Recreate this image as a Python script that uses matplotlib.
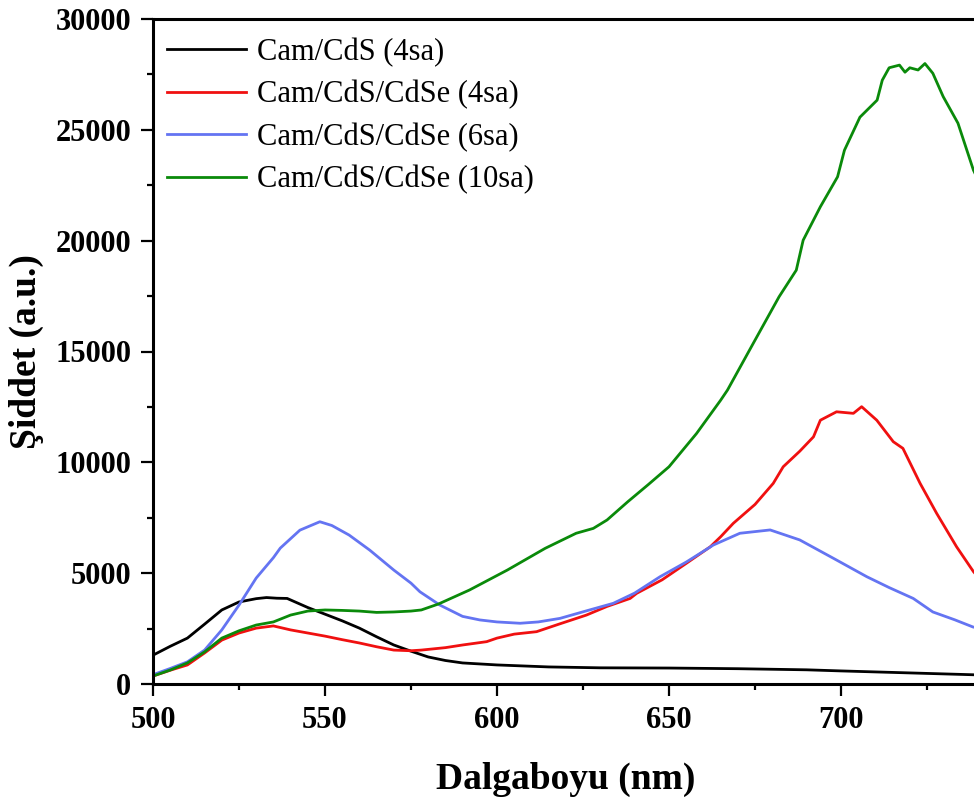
import matplotlib
matplotlib.use("Agg")
import matplotlib.pyplot as plt
from matplotlib.ticker import MultipleLocator

plt.rcParams["font.family"] = ["Liberation Serif", "DejaVu Serif"]

# %%
# Emission spectra (wavelength in nm, intensity in a.u.)
wl_cds4 = [500, 505, 510, 515, 520, 525, 530, 533, 536, 539, 545, 550, 555, 560,
           565, 570, 575, 580, 585, 590, 600, 615, 630, 650, 670, 690, 700, 720, 740]
int_cds4 = [1300, 1700, 2070, 2700, 3340, 3700, 3850, 3900, 3870, 3860, 3450, 3150,
            2850, 2520, 2130, 1760, 1480, 1220, 1060, 950, 860, 770, 730, 720, 690,
            640, 590, 500, 410]

wl_cdse4 = [500, 505, 510, 515, 520, 525, 530, 535, 540, 545, 550, 555, 560, 565,
            570, 575, 578, 585, 590, 597, 600, 605, 611.5, 618, 626, 632, 638.7,
            640.6, 648, 655, 662, 665, 668.7, 675, 680.3, 683.2, 688, 692, 694,
            698.7, 703.6, 706, 710.4, 715.2, 718, 723, 727.8, 733.6, 738.5, 740]
int_cdse4 = [360, 620, 860, 1400, 1980, 2300, 2520, 2620, 2440, 2300, 2160, 2000,
             1850, 1680, 1530, 1500, 1530, 1640, 1760, 1910, 2070, 2250, 2360, 2700,
             3110, 3500, 3860, 4090, 4700, 5440, 6190, 6640, 7250, 8100, 9050, 9800,
             10500, 11150, 11900, 12280, 12210, 12510, 11900, 10930, 10630, 9050,
             7700, 6190, 5070, 4800]

wl_cdse6 = [500, 505, 510, 515, 520, 525, 530, 535, 537, 542.7, 548.5, 552, 557,
            563, 570, 575, 577.6, 583.4, 590, 595, 600, 606.7, 612, 618.3, 626,
            633.8, 640, 647.4, 655, 662.9, 670.6, 679.4, 688, 697.8, 707.5, 714,
            721, 726.7, 733, 738.4, 740]
int_cdse6 = [420, 700, 1000, 1530, 2440, 3560, 4780, 5700, 6130, 6940, 7320, 7150,
             6720, 6040, 5140, 4550, 4160, 3560, 3050, 2890, 2800, 2740, 2800, 2960,
             3300, 3640, 4100, 4840, 5500, 6270, 6800, 6950, 6500, 5670, 4840, 4350,
             3860, 3250, 2900, 2570, 2520]

wl_cdse10 = [500, 505, 510, 515, 520, 525, 530, 535, 540, 545, 550, 555, 560, 565,
             570, 575, 578, 583, 592, 603, 614, 623, 628, 632, 638, 644, 650, 658,
             665, 667, 674.5, 682, 687, 689, 694, 699, 701, 705.5, 710.5, 712, 714,
             717, 718.6, 720, 722.4, 724.4, 726.7, 729.7, 734, 738.5, 740]
int_cdse10 = [360, 630, 950, 1450, 2070, 2400, 2660, 2800, 3110, 3290, 3340, 3320,
              3290, 3230, 3250, 3290, 3340, 3610, 4240, 5140, 6120, 6800, 7020, 7400,
              8220, 9000, 9800, 11300, 12800, 13260, 15370, 17470, 18670, 20020,
              21530, 22880, 24080, 25570, 26340, 27240, 27800, 27920, 27600, 27800,
              27700, 27990, 27550, 26500, 25300, 23180, 22700]

labels = ["Cam/CdS (4sa)", "Cam/CdS/CdSe (4sa)", "Cam/CdS/CdSe (6sa)",
          "Cam/CdS/CdSe (10sa)"]
colors = ["#000000", "#f01010", "#6474f2", "#0a8a0a"]

# %%
fig = plt.figure(figsize=(9.74, 8.01), dpi=100)
ax = fig.add_axes([153 / 974, 117 / 801, 825.6 / 974, 665 / 801])

series = [(wl_cds4, int_cds4), (wl_cdse4, int_cdse4),
          (wl_cdse6, int_cdse6), (wl_cdse10, int_cdse10)]
for (x, y), lab, c in zip(series, labels, colors):
    ax.plot(x, y, color=c, lw=2.0, label=lab)

ax.set_xlim(500, 740)
ax.set_ylim(0, 30000)
ax.xaxis.set_major_locator(MultipleLocator(50))
ax.xaxis.set_minor_locator(MultipleLocator(25))
ax.yaxis.set_major_locator(MultipleLocator(5000))
ax.yaxis.set_minor_locator(MultipleLocator(2500))
ax.tick_params(which="both", direction="out", width=1.6, top=False, right=False)
ax.tick_params(which="major", length=8.5, pad=7, labelsize=22)
ax.tick_params(which="minor", length=4.5)
for lab in ax.get_xticklabels() + ax.get_yticklabels():
    lab.set_fontweight("bold")
for sp in ax.spines.values():
    sp.set_linewidth(2.2)

ax.set_xlabel("Dalgaboyu (nm)", fontsize=27, fontweight="bold", labelpad=20)
ax.set_ylabel("Şiddet (a.u.)", fontsize=27, fontweight="bold", labelpad=8)

ax.legend(loc="upper left", frameon=False, fontsize=22, handlelength=2.6,
          handletextpad=0.35, labelspacing=0.43, borderaxespad=0.0,
          bbox_to_anchor=(0.002, 0.99))

fig.savefig("out.png", dpi=100)
